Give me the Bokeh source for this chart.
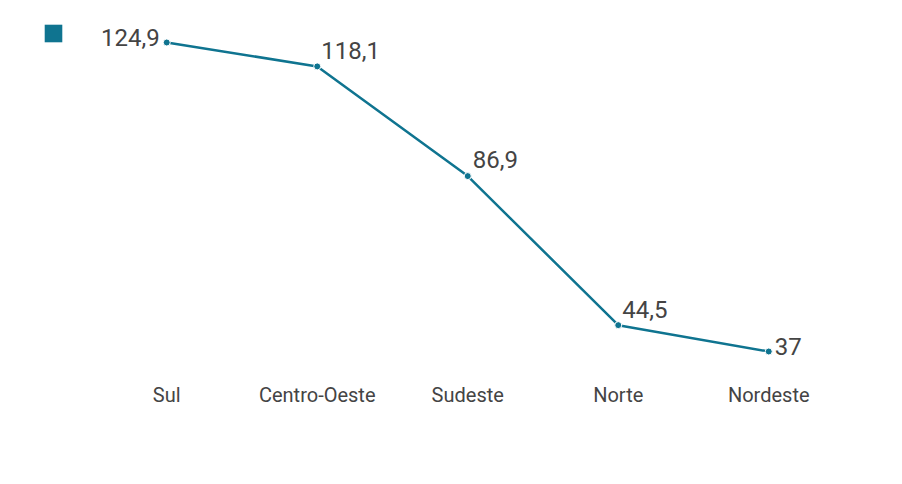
from bokeh.plotting import figure
from bokeh.models import (ColumnDataSource, Range1d, Legend, LegendItem,
                          FixedTicker)
from bokeh.core.properties import value
from bokeh.embed import file_html
from bokeh.resources import INLINE

regions = ["Sul", "Centro-Oeste", "Sudeste", "Norte", "Nordeste"]
values = [124.9, 118.1, 86.9, 44.5, 37.0]
value_labels = ["124,9", "118,1", "86,9", "44,5", "37"]

COLOR = "#0f7490"
TEXT = "#444444"

# label placement (style, not data)
align = ["right", "left", "left", "left", "left"]
xoff = [-7, 4, 5, 4, 6]
yoff = [-5, -16, -17, -16, -5]

pos = list(range(len(regions)))
src = ColumnDataSource(dict(x=pos, y=values, lab=value_labels,
                            align=align, xoff=xoff, yoff=yoff))

W, H = 880, 460
p = figure(width=W, height=H,
           x_range=Range1d(-0.9053, 4.4967),
           y_range=Range1d(31.03, 131.16),
           output_backend="svg", toolbar_location=None,
           min_border_left=30, min_border_right=37,
           min_border_top=20, min_border_bottom=88)
p.outline_line_color = None
p.background_fill_color = None
p.border_fill_color = "white"
p.xgrid.grid_line_color = None
p.ygrid.grid_line_color = None
p.yaxis.visible = False

ax = p.xaxis[0]
ax.ticker = FixedTicker(ticks=pos)
ax.major_label_overrides = {i: r for i, r in zip(pos, regions)}
ax.axis_line_color = None
ax.major_tick_line_color = None
ax.minor_tick_line_color = None
ax.major_label_text_font = "Roboto"
ax.major_label_text_font_size = "20px"
ax.major_label_text_color = TEXT
ax.major_label_standoff = 4

# zero-width bars: draw nothing, only give the legend its square swatch
swatch = p.vbar(x="x", top="y", bottom="y", width=0, source=src,
                fill_color=COLOR, line_color=None)

line = p.line("x", "y", source=src, line_color=COLOR, line_width=2.5)
p.scatter("x", "y", source=src, size=7, fill_color=COLOR,
          line_color="white", line_width=1)

p.text("x", "y", text="lab", source=src, text_font=value("Roboto"),
       text_font_size="24px", text_color=TEXT, text_align="align",
       text_baseline="middle", x_offset="xoff", y_offset="yoff")

legend = Legend(items=[LegendItem(label=" ", renderers=[swatch])],
                location=(12, 328), padding=0, spacing=0, margin=0,
                glyph_width=22, glyph_height=22, label_height=22,
                label_text_font_size="1px", label_width=1,
                border_line_color=None, background_fill_alpha=0)
p.add_layout(legend)

open("out.html", "w").write(file_html(p, INLINE))
